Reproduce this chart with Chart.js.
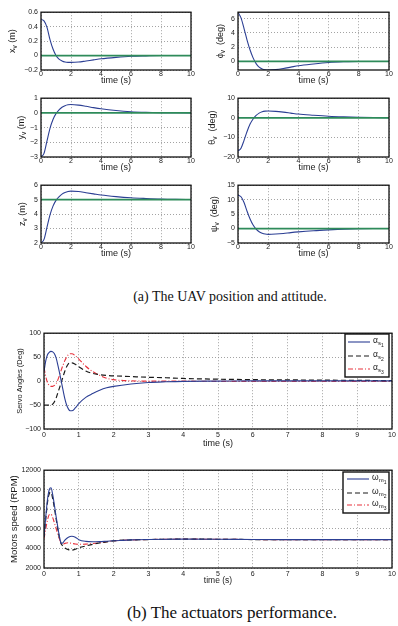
<!DOCTYPE html>
<html>
<head>
<meta charset="utf-8">
<script src="https://cdn.jsdelivr.net/npm/chart.js@4"></script>
<style>
body { margin: 0; background: #fff; width: 398px; height: 626px; position: relative; overflow: hidden; }
canvas { position: absolute; }
.cap { position: absolute; font-family: "Liberation Serif", "Times New Roman", serif; white-space: nowrap; transform: translate(-50%, -50%); color: #111; }
</style>
</head>
<body>
<canvas id="g_xv"></canvas>
<canvas id="g_phiv"></canvas>
<canvas id="g_yv"></canvas>
<canvas id="g_thetav"></canvas>
<canvas id="g_zv"></canvas>
<canvas id="g_psiv"></canvas>
<div class="cap" style="left:230px;top:297px;font-size:14px">(a) The UAV position and attitude.</div>
<canvas id="g_servo"></canvas>
<canvas id="g_motor"></canvas>
<div class="cap" style="left:232px;top:613px;font-size:17px">(b) The actuators performance.</div>
<script>
// posicao e atitude (a)
const timePos = [0, 0.2, 0.4, 0.6, 0.8, 1, 1.2, 1.4, 1.6, 1.8, 2, 2.5, 3, 3.5, 4, 5, 6, 7, 8, 9, 10]
const xv = [0.5, 0.48, 0.39, 0.22, 0.09, 0, -0.05, -0.075, -0.09, -0.095, -0.095, -0.09, -0.075, -0.06, -0.045, -0.025, -0.01, -0.004, 0, 0, 0]
const phiv = [6.9, 6.1, 4.6, 3.0, 1.6, 0.5, -0.3, -0.8, -1.05, -1.17, -1.2, -1.15, -1.0, -0.8, -0.6, -0.35, -0.15, -0.05, 0, 0, 0]
const yv = [-3, -2.75, -1.9, -1.05, -0.45, -0.05, 0.2, 0.38, 0.49, 0.55, 0.57, 0.53, 0.45, 0.36, 0.28, 0.16, 0.08, 0.04, 0.02, 0.01, 0]
const thetav = [-17, -15.5, -11.5, -7, -3.2, -0.6, 1.2, 2.4, 3.1, 3.4, 3.5, 3.3, 2.9, 2.4, 1.9, 1.3, 0.8, 0.5, 0.3, 0.15, 0.1]
const zv = [2, 2.25, 3.1, 3.95, 4.55, 4.95, 5.2, 5.38, 5.49, 5.56, 5.59, 5.56, 5.48, 5.4, 5.32, 5.21, 5.13, 5.08, 5.04, 5.02, 5.01]
const psiv = [11.6, 11, 9, 6, 3.3, 1.2, -0.2, -1.1, -1.6, -1.9, -2.0, -1.9, -1.7, -1.4, -1.15, -0.75, -0.45, -0.2, -0.05, 0, 0]
// referencias (linha verde)
const refXv = 0, refPhiv = 0, refYv = 0, refThetav = 0, refZv = 5, refPsiv = 0

// servos (b)
const timeServo = [0, 0.05, 0.1, 0.15, 0.2, 0.25, 0.3, 0.35, 0.4, 0.45, 0.5, 0.55, 0.6, 0.65, 0.7, 0.75, 0.8, 0.9, 1, 1.2, 1.4, 1.6, 1.8, 2, 2.5, 3, 3.5, 4, 5, 6, 7, 8, 9, 10]
const alphaS1 = [20, 42, 55, 60, 62, 61, 57, 48, 33, 16, -2, -20, -37, -50, -58, -62, -62, -56, -47, -34, -26, -19, -14, -11, -6, -3, -1.5, -0.5, 0, 0.5, 0.5, 0.5, 0.5, 0.5]
const alphaS2 = [-50, -50, -50, -50, -50, -48, -43, -35, -24, -13, -2, 10, 21, 30, 36, 38, 38, 35, 30, 21, 16, 13.5, 12, 11, 9.5, 8, 7, 5.5, 4, 3, 2.5, 2, 1.5, 1]
const alphaS3 = [28, 10, -3, -9, -11, -11, -9, -5, 3, 13, 24, 34, 43, 50, 55, 57, 57, 53, 46, 31, 20, 12, 6, 3, 0.5, 0, 0, 0, -0.5, -0.5, -0.5, -0.5, -0.5, -0.5]

// motores (b)
const timeMotor = [0, 0.05, 0.1, 0.15, 0.2, 0.25, 0.3, 0.35, 0.4, 0.45, 0.5, 0.55, 0.6, 0.7, 0.8, 0.9, 1, 1.2, 1.4, 1.6, 1.8, 2, 2.5, 3, 4, 5, 6, 7, 8, 9, 10]
const omegaM1 = [5200, 7200, 9000, 10000, 10200, 9500, 8400, 7200, 6100, 5100, 4500, 4600, 4850, 5150, 5250, 5150, 4900, 4720, 4680, 4700, 4740, 4780, 4880, 4920, 4950, 4940, 4910, 4900, 4900, 4900, 4900]
const omegaM2 = [5200, 7000, 8700, 9600, 9750, 9100, 8100, 7000, 5900, 5000, 4450, 4200, 4050, 3880, 3830, 3920, 4070, 4250, 4420, 4560, 4680, 4780, 4870, 4910, 4950, 4940, 4910, 4900, 4900, 4900, 4900]
const omegaM3 = [5000, 6000, 6900, 7450, 7500, 7150, 6600, 6000, 5450, 4900, 4450, 4450, 4520, 4580, 4520, 4450, 4430, 4440, 4500, 4580, 4680, 4780, 4870, 4910, 4950, 4940, 4910, 4900, 4900, 4900, 4900]

const azul = '#2c3f94'
const verde = '#2e8b5a'
const preto = '#1a1a1a'
const vermelho = '#e8323c'
const fonte = '"Liberation Sans", Arial, sans-serif'

Chart.defaults.font.family = fonte
Chart.defaults.color = '#1a1a1a'

function pontos(tempo, valores) {
    return tempo.map((t, i) => ({ x: t, y: valores[i] }))
}

function escreve(ctx, partes, x, y, centro) {
    let total = 0
    partes.forEach(p => {
        ctx.font = p[1] + 'px ' + fonte
        total += ctx.measureText(p[0]).width
    })
    if (centro) x -= total / 2
    ctx.textBaseline = 'middle'
    ctx.textAlign = 'left'
    partes.forEach(p => {
        ctx.font = p[1] + 'px ' + fonte
        ctx.fillText(p[0], x, y + (p[2] || 0))
        x += ctx.measureText(p[0]).width
    })
}

const moldura = {
    id: 'moldura',
    afterDraw(chart, args, opts) {
        const ctx = chart.ctx
        const a = chart.chartArea
        ctx.save()
        ctx.strokeStyle = '#111'
        ctx.lineWidth = 1.3
        ctx.strokeRect(a.left, a.top, a.right - a.left, a.bottom - a.top)
        ctx.fillStyle = '#1a1a1a'
        if (opts.title) {
            ctx.save()
            ctx.translate(opts.titleX, (a.top + a.bottom) / 2)
            ctx.rotate(-Math.PI / 2)
            escreve(ctx, opts.title, 0, 0, true)
            ctx.restore()
        }
        if (opts.legend) {
            const L = opts.legend
            ctx.fillStyle = '#fff'
            ctx.fillRect(L.x, L.y, L.w, L.h)
            ctx.strokeStyle = '#111'
            ctx.lineWidth = 1.4
            ctx.strokeRect(L.x, L.y, L.w, L.h)
            L.rows.forEach(r => {
                ctx.strokeStyle = r.color
                ctx.lineWidth = r.width
                ctx.setLineDash(r.dash)
                ctx.beginPath()
                ctx.moveTo(L.x1, r.y)
                ctx.lineTo(L.x2, r.y)
                ctx.stroke()
                ctx.setLineDash([])
                ctx.fillStyle = '#1a1a1a'
                escreve(ctx, r.text, L.tx, r.y - 1, false)
            })
        }
        ctx.restore()
    }
}

function fmt(v) {
    return String(Math.round(v * 100) / 100).replace('-', '\u2212')
}

function grafico(id, box, datasets, y, xStep, extra) {
    const c = document.getElementById(id)
    c.width = box.w
    c.height = box.h
    c.style.left = box.x + 'px'
    c.style.top = box.y + 'px'
    const grade = { color: '#8c8c8c', lineWidth: 0.8, drawTicks: false }
    return new Chart(c, {
        type: 'line',
        data: { datasets: datasets },
        options: {
            responsive: false,
            animation: false,
            layout: { padding: { top: box.pt, right: box.pr, left: 0, bottom: 0 } },
            elements: { point: { radius: 0 }, line: { borderWidth: 1.1, cubicInterpolationMode: 'monotone' } },
            plugins: { legend: { display: false }, tooltip: { enabled: false }, moldura: extra },
            scales: {
                x: {
                    type: 'linear', min: 0, max: 10,
                    ticks: { stepSize: xStep, font: { size: 7 }, padding: box.tp, maxRotation: 0, callback: fmt },
                    grid: grade,
                    border: { display: false, dash: [1, 2] },
                    title: { display: true, text: 'time (s)', font: { size: box.ts }, padding: 0 },
                    afterFit: s => { s.height = box.xh }
                },
                y: {
                    min: y.min, max: y.max,
                    ticks: { stepSize: y.step, includeBounds: false, font: { size: 7 }, padding: 3, callback: fmt },
                    grid: grade,
                    border: { display: false, dash: [1, 2] },
                    afterFit: s => { s.width = box.yw }
                }
            }
        },
        plugins: [moldura]
    })
}

const rowTop = [11, 97, 184]
const rowBottom = [70, 157, 243]

function pequeno(id, col, row, valores, ref, y, title, titleX) {
    const top = rowTop[row], bottom = rowBottom[row]
    const box = col === 0
        ? { x: 0, w: 199, yw: 41, pr: 8 }
        : { x: 200, w: 198, yw: 38, pr: 9 }
    box.pt = 6
    box.xh = 16
    box.tp = 0
    box.ts = 9
    box.y = top - 6
    box.h = bottom - top + 6 + box.xh
    const ds = [
        { data: [{ x: 0, y: ref }, { x: 10, y: ref }], borderColor: verde, borderWidth: 1.8 },
        { data: pontos(timePos, valores), borderColor: azul, borderWidth: 1.1 }
    ]
    grafico(id, box, ds, y, 2, { title: title, titleX: titleX })
}

const sv = ['v', 6.5, 2.5]
pequeno('g_xv', 0, 0, xv, refXv, { min: -0.2, max: 0.6, step: 0.2 }, [['x', 9], sv, [' (m)', 9]], 13)
pequeno('g_phiv', 1, 0, phiv, refPhiv, { min: -1.2, max: 6.9, step: 2 }, [['\u03d5', 9], sv, ['  (deg)', 9]], 21)
pequeno('g_yv', 0, 1, yv, refYv, { min: -3, max: 1, step: 1 }, [['y', 9], sv, [' (m)', 9]], 22)
pequeno('g_thetav', 1, 1, thetav, refThetav, { min: -20, max: 10, step: 10 }, [['\u03b8', 9], sv, ['  (deg)', 9]], 13)
pequeno('g_zv', 0, 2, zv, refZv, { min: 2, max: 6, step: 1 }, [['z', 9], sv, [' (m)', 9]], 23)
pequeno('g_psiv', 1, 2, psiv, refPsiv, { min: -5, max: 15, step: 5 }, [['\u03c8', 9], sv, ['  (deg)', 9]], 15)

function linhas(tempo, a, b, c) {
    return [
        { data: pontos(tempo, a), borderColor: azul, borderWidth: 1.1 },
        { data: pontos(tempo, b), borderColor: preto, borderWidth: 1.2, borderDash: [5, 3] },
        { data: pontos(tempo, c), borderColor: vermelho, borderWidth: 1.1, borderDash: [5, 2, 1, 2] }
    ]
}

function itens(letra, sub, ys) {
    return [
        { color: azul, width: 1.1, dash: [], y: ys[0], text: [[letra, 8.5], [sub, 6, 2.5], ['1', 5, 4.5]] },
        { color: preto, width: 1.2, dash: [5, 3], y: ys[1], text: [[letra, 8.5], [sub, 6, 2.5], ['2', 5, 4.5]] },
        { color: vermelho, width: 1.1, dash: [5, 2, 1, 2], y: ys[2], text: [[letra, 8.5], [sub, 6, 2.5], ['3', 5, 4.5]] }
    ]
}

grafico('g_servo',
    { x: 0, y: 326, w: 398, h: 123, yw: 44, pr: 6, pt: 6, xh: 20, tp: 2, ts: 9 },
    linhas(timeServo, alphaS1, alphaS2, alphaS3),
    { min: -100, max: 100, step: 50 }, 1,
    {
        title: [['Servo Angles (Deg)', 7.5]], titleX: 20,
        legend: { x: 345, y: 8, w: 44, h: 43, x1: 348, x2: 370, tx: 373, rows: itens('\u03b1', 's', [16, 30, 43]) }
    })

grafico('g_motor',
    { x: 0, y: 463, w: 398, h: 123, yw: 44, pr: 6, pt: 6, xh: 18, tp: 2, ts: 8.5 },
    linhas(timeMotor, omegaM1, omegaM2, omegaM3),
    { min: 2000, max: 12000, step: 2000 }, 1,
    {
        title: [['Motors speed (RPM)', 9.5]], titleX: 14,
        legend: { x: 343, y: 9, w: 46, h: 41, x1: 347, x2: 369, tx: 372, rows: itens('\u03c9', 'm', [16, 30, 42]) }
    })
</script>
</body>
</html>
